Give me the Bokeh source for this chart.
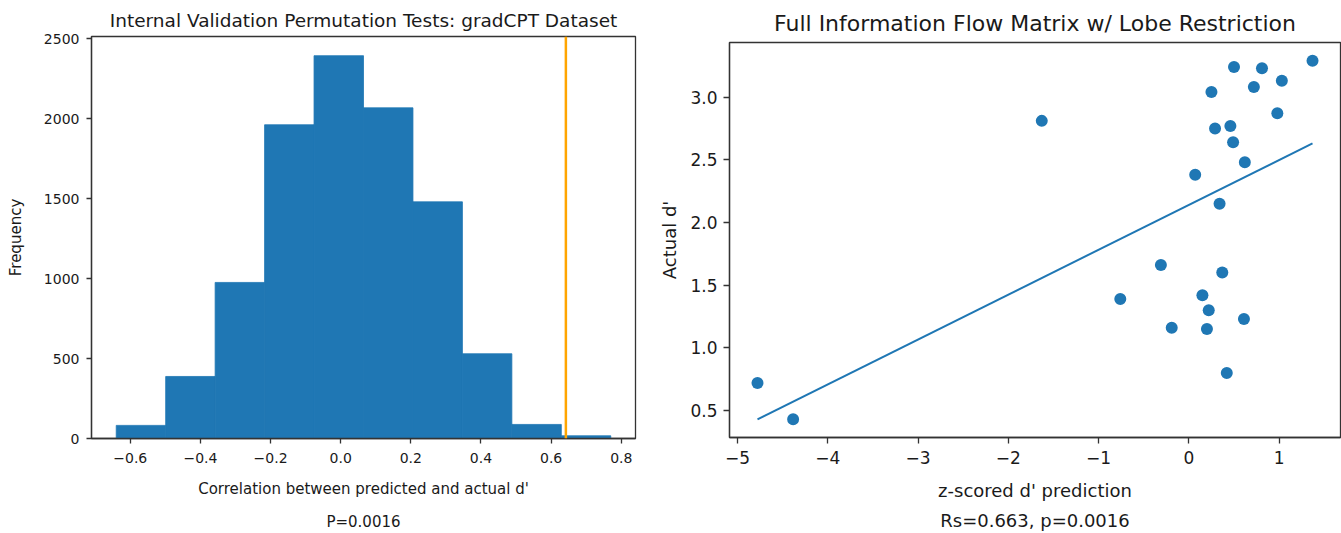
from bokeh.plotting import figure
from bokeh.layouts import row, column
from bokeh.models import FixedTicker, Range1d, Span, LinearAxis
from bokeh.embed import file_html
from bokeh.resources import INLINE

# ---------------- Left: permutation-test histogram ----------------
bin_edges = [-0.640, -0.499, -0.358, -0.217, -0.076, 0.065, 0.206, 0.347, 0.488, 0.629, 0.770]
counts = [82, 388, 976, 1962, 2394, 2068, 1480, 530, 88, 17]
observed_r = 0.642
hist_xticks = [-0.6, -0.4, -0.2, 0.0, 0.2, 0.4, 0.6, 0.8]
hist_xtick_labels = ["\u22120.6", "\u22120.4", "\u22120.2", "0.0", "0.2", "0.4", "0.6", "0.8"]
hist_yticks = [0, 500, 1000, 1500, 2000, 2500]
hist_ytick_labels = ["0", "500", "1000", "1500", "2000", "2500"]

# ---------------- Right: prediction scatter ----------------
pred_z = [-4.78, -4.385, -1.63, -0.76, -0.31, -0.19, 0.07, 0.15, 0.22, 0.20, 0.25, 0.29,
          0.34, 0.37, 0.42, 0.46, 0.49, 0.50, 0.61, 0.62, 0.72, 0.81, 0.98, 1.03, 1.37]
actual_d = [0.72, 0.43, 2.81, 1.39, 1.66, 1.16, 2.38, 1.42, 1.30, 1.15, 3.04, 2.75,
            2.15, 1.60, 0.80, 2.77, 2.64, 3.24, 1.23, 2.48, 3.08, 3.23, 2.87, 3.13, 3.29]
fit_x = [-4.78, 1.37]
fit_y = [0.43, 2.63]
sc_xticks = [-5, -4, -3, -2, -1, 0, 1]
sc_xtick_labels = ["\u22125", "\u22124", "\u22123", "\u22122", "\u22121", "0", "1"]
sc_yticks = [0.5, 1.0, 1.5, 2.0, 2.5, 3.0]
sc_ytick_labels = ["0.5", "1.0", "1.5", "2.0", "2.5", "3.0"]

FONT = "DejaVu Sans"
BLUE = "#1f77b4"
AXC = "#333333"
TXT = "#1a1a1a"


def style(p, tick_size, label_size, tick_len):
    p.xgrid.visible = False
    p.ygrid.visible = False
    p.outline_line_color = AXC
    p.outline_line_width = 1.3
    p.outline_line_alpha = 1
    for ax in (p.xaxis[0], p.yaxis[0]):
        ax.axis_line_color = AXC
        ax.axis_line_width = 1.3
        ax.major_tick_line_color = AXC
        ax.major_tick_line_width = 1.3
        ax.major_tick_out = tick_len
        ax.major_tick_in = 0
        ax.minor_tick_line_color = None
        ax.major_label_text_font = FONT
        ax.major_label_text_font_size = tick_size
        ax.major_label_text_color = TXT
        ax.axis_label_text_font = FONT
        ax.axis_label_text_font_size = label_size
        ax.axis_label_text_font_style = "normal"
        ax.axis_label_text_color = TXT


def style_title(p, text, size, standoff):
    p.title.text = text
    p.title.align = "center"
    p.title.text_font = FONT
    p.title.text_font_size = size
    p.title.text_font_style = "normal"
    p.title.text_color = TXT
    p.title.standoff = standoff
    p.title.offset = 0


def caption_axis(text, size, standoff):
    # a tick-less axis below the x axis that only carries a caption line
    ax = LinearAxis(ticker=FixedTicker(ticks=[]), axis_label=text,
                    axis_line_color=None, major_tick_line_color=None, minor_tick_line_color=None,
                    major_tick_out=0, major_tick_in=0, major_label_standoff=0,
                    axis_label_standoff=standoff, axis_label_text_font=FONT,
                    axis_label_text_font_size=size, axis_label_text_font_style="normal",
                    axis_label_text_color=TXT)
    return ax


# Left figure: frame 91..635 x 36..439
p1 = figure(width=651, height=533, output_backend="svg", toolbar_location=None,
            x_range=Range1d(-0.7105, 0.8405), y_range=Range1d(0, 2514),
            min_border_left=91, min_border_right=16, min_border_top=36, min_border_bottom=94)
style_title(p1, "Internal Validation Permutation Tests: gradCPT Dataset", "18.5px", 11)

p1.quad(left=bin_edges[:-1], right=bin_edges[1:], bottom=0, top=counts,
        fill_color=BLUE, line_color=BLUE, line_width=0.8)
p1.add_layout(Span(location=observed_r, dimension="height", line_color="orange", line_width=2.5))

style(p1, "14px", "15px", 5)
p1.xaxis.major_label_standoff = 9
p1.yaxis.major_label_standoff = 7
p1.xaxis.ticker = FixedTicker(ticks=hist_xticks)
p1.xaxis.major_label_overrides = dict(zip(hist_xticks, hist_xtick_labels))
p1.yaxis.ticker = FixedTicker(ticks=hist_yticks)
p1.yaxis.major_label_overrides = dict(zip(hist_yticks, hist_ytick_labels))
p1.xaxis.axis_label = "Correlation between predicted and actual d'"
p1.yaxis.axis_label = "Frequency"
p1.xaxis.axis_label_standoff = 14
p1.yaxis.axis_label_standoff = 16
p1.add_layout(caption_axis("P=0.0016", "15px", 12), "below")

# Right figure: frame 729..1340 x 42..437
p2 = figure(width=690, height=533, output_backend="svg", toolbar_location=None,
            x_range=Range1d(-5.09, 1.68), y_range=Range1d(0.285, 3.435),
            min_border_left=78, min_border_right=1, min_border_top=42, min_border_bottom=96)
style_title(p2, "Full Information Flow Matrix w/ Lobe Restriction", "22px", 14)

p2.line(fit_x, fit_y, line_color=BLUE, line_width=2)
p2.scatter(pred_z, actual_d, size=12, fill_color=BLUE, line_color=None)

style(p2, "17px", "18px", 6)
p2.xaxis.major_label_standoff = 7
p2.yaxis.major_label_standoff = 6
p2.xaxis.ticker = FixedTicker(ticks=sc_xticks)
p2.xaxis.major_label_overrides = dict(zip(sc_xticks, sc_xtick_labels))
p2.yaxis.ticker = FixedTicker(ticks=sc_yticks)
p2.yaxis.major_label_overrides = dict(zip(sc_yticks, sc_ytick_labels))
p2.xaxis.axis_label = "z-scored d' prediction"
p2.yaxis.axis_label = "Actual d'"
p2.xaxis.axis_label_standoff = 13
p2.yaxis.axis_label_standoff = 7
p2.add_layout(caption_axis("Rs=0.663, p=0.0016", "18px", 6), "below")

layout = row(column(p1), column(p2))
open("out.html", "w").write(file_html(layout, INLINE))
